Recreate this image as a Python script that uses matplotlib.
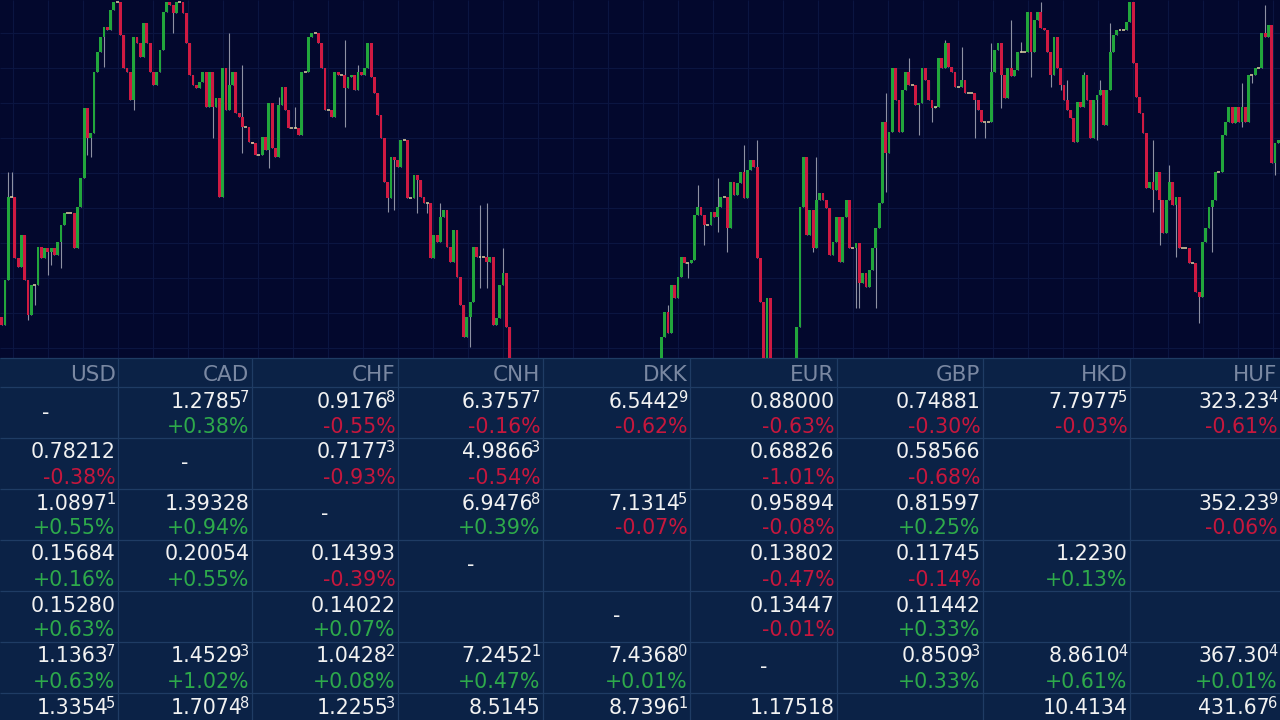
import numpy as np
import matplotlib
matplotlib.use("Agg")
import matplotlib.pyplot as plt
from matplotlib.patches import Rectangle

# ---- candle data (price units, one bar per entry; open = previous close) ----
first_open = 43
closes = [
    35, 80, 163, 163, 102, 93, 125, 80, 45, 75,
    75, 113, 102, 112, 108, 112, 105, 118, 135, 147,
    147, 147, 112, 153, 182, 252, 222, 227, 288, 308,
    323, 333, 330, 350, 358, 358, 325, 292, 288, 260,
    323, 317, 303, 337, 317, 288, 275, 288, 310, 348,
    358, 355, 347, 358, 358, 347, 317, 285, 275, 272,
    278, 288, 253, 288, 253, 262, 163, 292, 250, 275,
    288, 247, 243, 233, 233, 218, 217, 205, 205, 223,
    210, 257, 212, 203, 255, 273, 250, 232, 232, 232,
    225, 288, 288, 323, 327, 327, 317, 292, 250, 250,
    243, 288, 285, 285, 272, 283, 285, 270, 288, 285,
    292, 317, 283, 267, 245, 222, 178, 162, 203, 200,
    193, 220, 220, 162, 162, 185, 180, 163, 157, 157,
    102, 125, 118, 143, 150, 113, 98, 130, 83, 55,
    23, 43, 58, 113, 103, 103, 103, 98, 103, 35,
    42, 75, 87, 33, -10,
    # out of view (below the window)
    -22, -35, -48, -60, -72, -80, -95, -104, -110, -98,
    -112, -120, -108, -100, -106, -92, -88, -97, -84, -78,
    -70, -82, -68, -60, -66, -52, -46, -55, -40, -34,
    -42, -30, -24, -33, -20, -15, -24, -12, -8, -16,
    -6, -2, -12, -18, -8,
    23, 48, 27, 75, 62, 83, 103, 97, 97, 100,
    145, 153, 145, 135, 135, 148, 143, 153, 163, 163,
    132, 178, 165, 177, 188, 162, 190, 200, 193, 102,
    58, -10, 62, -15,
    -25, -30, -20, -35, -25, -15, -8,
    33, 153, 203, 125, 150, 112, 160, 167, 160, 152,
    105, 118, 143, 98, 143, 160, 112, 112, 117, 77,
    87, 73, 90, 112, 132, 157, 238, 207, 228, 292,
    260, 228, 270, 288, 275, 275, 255, 257, 292, 280,
    260, 252, 253, 302, 292, 317, 293, 288, 273, 273,
    280, 267, 267, 267, 260, 250, 238, 238, 238, 288,
    310, 317, 285, 262, 292, 284, 290, 308, 308, 308,
    348, 308, 340, 348, 332, 330, 308, 285, 323, 292,
    275, 260, 250, 242, 218, 258, 253, 285, 260, 222,
    260, 265, 270, 235, 270, 308, 325, 330, 330, 330,
    338, 358, 297, 263, 247, 227, 172, 178, 170, 188,
    160, 127, 160, 178, 155, 163, 112, 112, 112, 97,
    97, 68, 63, 118, 132, 153, 160, 188, 188, 225,
    238, 253, 237, 253, 238, 253, 238, 285, 285, 292,
    292, 327, 323, 335, 197, 217, 220,
]

# long wicks: bar index -> (high, low)
wicks = {
    2: (188, None), 3: (188, None), 8: (None, 40), 10: (None, 55),
    14: (None, 85), 15: (None, 95), 18: (None, 92), 26: (None, 205),
    27: (None, 203), 31: (None, 293), 40: (None, 250), 52: (None, 327),
    64: (None, 222), 69: (327, None), 73: (295, 207), 81: (None, 192),
    84: (263, None), 89: (253, None), 104: (320, 233), 108: (295, None),
    117: (None, 148), 119: (None, 150), 126: (None, 147), 129: (None, 147),
    133: (157, None), 142: (None, 13), 145: (155, 72), 147: (157, 72),
    152: (112, None), 202: (55, None), 208: (None, 82), 211: (175, None),
    213: (None, 115), 217: (182, 128), 220: (None, 108), 225: (215, None),
    229: (220, None), 246: (None, 108), 247: (203, None), 259: (None, 52),
    260: (None, 52), 265: (None, 52), 268: (267, 168), 275: (302, None),
    278: (None, 225), 282: (None, 238), 286: (320, None), 291: (313, None),
    295: (None, 222), 298: (None, 222), 300: (317, None), 303: (None, 252),
    306: (340, None), 309: (318, None), 312: (None, 283), 315: (358, None),
    318: (None, 273), 321: (None, 270), 323: (280, None), 328: (288, None),
    332: (None, 220), 333: (280, None), 336: (337, None), 349: (220, 148),
    351: (None, 115), 354: (195, None), 356: (None, 103), 363: (None, 37),
    367: (None, 108), 376: (277, 233), 379: (277, None), 383: (355, None),
    386: (None, 185),
}

# ---- cross rate table ----
currencies = ["USD", "CAD", "CHF", "CNH", "DKK", "EUR", "GBP", "HKD", "HUF"]
quotes = [
    ["-", "1.2785^7", "0.9176^8", "6.3757^7", "6.5442^9", "0.88000", "0.74881", "7.7977^5", "323.23^4"],
    ["0.78212", "-", "0.7177^3", "4.9866^3", "", "0.68826", "0.58566", "", ""],
    ["1.0897^1", "1.39328", "-", "6.9476^8", "7.1314^5", "0.95894", "0.81597", "", "352.23^9"],
    ["0.15684", "0.20054", "0.14393", "-", "", "0.13802", "0.11745", "1.2230", ""],
    ["0.15280", "", "0.14022", "", "-", "0.13447", "0.11442", "", ""],
    ["1.1363^7", "1.4529^3", "1.0428^2", "7.2452^1", "7.4368^0", "-", "0.8509^3", "8.8610^4", "367.30^4"],
    ["1.3354^5", "1.7074^8", "1.2255^3", "8.5145", "8.7396^1", "1.17518", "", "10.4134", "431.67^6"],
]
changes = [
    [None, 0.38, -0.55, -0.16, -0.62, -0.63, -0.30, -0.03, -0.61],
    [-0.38, None, -0.93, -0.54, None, -1.01, -0.68, None, None],
    [0.55, 0.94, None, 0.39, -0.07, -0.08, 0.25, None, -0.06],
    [0.16, 0.55, -0.39, None, None, -0.47, -0.14, 0.13, None],
    [0.63, None, 0.07, None, None, -0.01, 0.33, None, None],
    [0.63, 1.02, 0.08, 0.47, 0.01, None, 0.33, 0.61, 0.01],
    [None, None, None, None, None, None, None, None, None],
]

CHART_BG = '#03082d'
CHART_GRID = '#0b1541'
TABLE_BG = '#0b2246'
TABLE_LINE = '#1f3c64'
HEAD_COL = '#7a88a2'
TXT_COL = '#f2f2f2'
UP_TXT = '#2eaa4b'
DN_TXT = '#c6173d'
UP_BAR = '#22a63c'
DN_BAR = '#cf1a42'
WICK = '#8e91a3'
DOJI = '#e0d5a4'

fig = plt.figure(figsize=(12.8, 7.2), dpi=100, facecolor=TABLE_BG)

# background layer in pixel coordinates
bg = fig.add_axes([0, 0, 1, 1])
bg.set_xlim(0, 1280)
bg.set_ylim(720, 0)
bg.axis('off')
bg.add_patch(Rectangle((0, 0), 1280, 358, facecolor=CHART_BG, edgecolor='none'))
bg.vlines(np.arange(13, 1280, 35), 0, 358, color=CHART_GRID, lw=0.8)
bg.hlines(np.arange(33, 358, 35), 0, 1280, color=CHART_GRID, lw=0.8)

col_edges = [-27, 118, 252, 398, 543, 690, 837, 983, 1130, 1280]
row_edges = [358, 387, 437.5, 488.5, 539.5, 590.5, 641.5, 692.5, 743.5]
bg.hlines(row_edges[:-1], 0, 1280, color=TABLE_LINE, lw=0.9)
bg.vlines(col_edges[1:-1], 358, 720, color=TABLE_LINE, lw=0.9)

for j, cur in enumerate(currencies):
    bg.text(col_edges[j + 1] - 2.5, 381, cur, ha='right', va='baseline',
            fontsize=15.5, color=HEAD_COL)

for i, row in enumerate(quotes):
    top = row_edges[i + 1]
    for j, q in enumerate(row):
        right = col_edges[j + 1] - 2.5
        if q == '-':
            bg.text((col_edges[j] + col_edges[j + 1]) / 2, top + 31.5, '-',
                    ha='center', va='baseline', fontsize=14.8, color=TXT_COL)
            continue
        if q:
            main, _, sup = q.partition('^')
            if sup:
                s = bg.text(right, top + 15, sup, ha='right', va='baseline',
                            fontsize=10.5, color=TXT_COL)
                bg.annotate(main, xy=(0.2, top + 21), xycoords=(s, 'data'),
                            ha='right', va='baseline', fontsize=14.8, color=TXT_COL)
            else:
                bg.text(right, top + 21, main, ha='right', va='baseline',
                        fontsize=14.8, color=TXT_COL)
        ch = changes[i][j]
        if ch is not None:
            bg.text(right, top + 46, f'{ch:+.2f}%', ha='right', va='baseline',
                    fontsize=14.8, color=UP_TXT if ch > 0 else DN_TXT)

# candles
ax = fig.add_axes([0, 362 / 720, 1, 358 / 720])
ax.set_facecolor('none')
c = np.array(closes, dtype=float)
o = np.r_[first_open, c[:-1]]
idx = np.arange(len(c))
hi = np.maximum(o, c)
lo = np.minimum(o, c)
for k, (h, l) in wicks.items():
    if h is not None:
        hi[k] = h
    if l is not None:
        lo[k] = l

ax.vlines(idx, lo, hi, color=WICK, lw=0.8, zorder=1)
body = c - o
ax.bar(idx, body, bottom=o, width=0.85, color=np.where(body > 0, UP_BAR, DN_BAR),
       linewidth=0, zorder=2)
flat = np.abs(body) < 1.5
ax.hlines(c[flat], idx[flat] - 0.45, idx[flat] + 0.45, color=DOJI, lw=1.1, zorder=3)

ax.set_xlim(-0.5, len(c) - 0.5)
ax.set_ylim(2, 360)
ax.axis('off')

fig.savefig('out.png', dpi=100, facecolor=fig.get_facecolor())
